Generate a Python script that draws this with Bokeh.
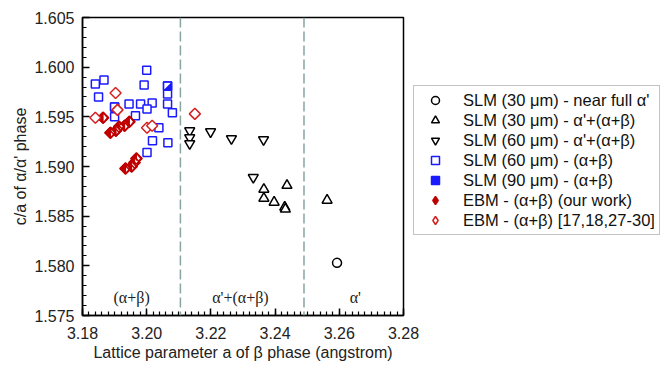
import numpy as np
from bokeh.plotting import figure
from bokeh.models import (Range1d, FixedTicker, PrintfTickFormatter, Span, Legend,
                          LegendItem, ColumnDataSource)
from bokeh.core.properties import value
from bokeh.embed import file_html
from bokeh.resources import INLINE

# ---------------- data ----------------
slm30_full_x = [3.2593]
slm30_full_y = [1.5803]

slm30_mix_x = [3.2365, 3.2365, 3.2397, 3.2430, 3.2432, 3.2437, 3.2562]
slm30_mix_y = [1.5877, 1.5868, 1.5864, 1.5859, 1.5857, 1.5881, 1.5866]

slm60_mix_x = [3.2134, 3.2134, 3.2134, 3.2199, 3.2264, 3.2364, 3.2332]
slm60_mix_y = [1.5936, 1.5929, 1.5923, 1.5935, 1.5928, 1.5927, 1.5889]

slm60_ab_x = [3.1840, 3.1867, 3.1850, 3.1900, 3.1945, 3.1965, 3.1981, 3.1992, 3.2000,
              3.2017, 3.2001, 3.2038, 3.2018, 3.2001, 3.2065, 3.2065, 3.2080, 3.2066]
slm60_ab_y = [1.5983, 1.5987, 1.5970, 1.5950, 1.5963, 1.5951, 1.5963, 1.5982, 1.5997,
              1.5964, 1.5958, 1.5939, 1.5926, 1.5914, 1.5973, 1.5963, 1.5954, 1.5924]

slm90_ab_x = [3.1900, 3.2065]
slm90_ab_y = [1.5960, 1.5981]

ebm_our_x = [3.1864, 3.1887, 3.1904, 3.1914, 3.1931, 3.1946, 3.1934, 3.1953, 3.1962, 3.1968]
ebm_our_y = [1.5949, 1.5934, 1.5936, 1.5940, 1.5941, 1.5945, 1.5898, 1.5900, 1.5904, 1.5908]

ebm_lit_x = [3.1840, 3.1903, 3.1909, 3.2001, 3.2017, 3.2150]
ebm_lit_y = [1.5949, 1.5974, 1.5957, 1.5939, 1.5941, 1.5953]

phase_boundaries = [3.2105, 3.249]
region_labels = ["(α+β)", "α'+(α+β)", "α'"]
region_label_x = [3.1953, 3.2292, 3.2650]
region_label_y = [1.5768, 1.5768, 1.5768]

x_major = [3.18, 3.20, 3.22, 3.24, 3.26, 3.28]
y_major = [1.575, 1.580, 1.585, 1.590, 1.595, 1.600, 1.605]

legend_labels = ["SLM (30 μm) - near full α'",
                 "SLM (30 μm) - α'+(α+β)",
                 "SLM (60 μm) - α'+(α+β)",
                 "SLM (60 μm) - (α+β)",
                 "SLM (90 μm) - (α+β)",
                 "EBM - (α+β) (our work)",
                 "EBM - (α+β) [17,18,27-30]"]

# ---------------- figure ----------------
X0, X1 = 3.18, 3.28
Y0, Y1 = 1.575, 1.605
FW, FH = 321, 298

p = figure(frame_width=FW, frame_height=FH,
           x_range=Range1d(X0, X1), y_range=Range1d(Y0, Y1),
           min_border_left=82, min_border_right=0,
           min_border_top=17, min_border_bottom=59,
           output_backend="svg", toolbar_location=None)
p.xgrid.visible = False
p.ygrid.visible = False
p.outline_line_color = "black"
p.outline_line_width = 1.5
p.background_fill_color = "white"
p.border_fill_color = "white"

p.xaxis.ticker = FixedTicker(ticks=x_major,
                             minor_ticks=list(np.round(np.arange(X0, X1 + 1e-9, 0.002), 4)))
p.yaxis.ticker = FixedTicker(ticks=y_major,
                             minor_ticks=list(np.round(np.arange(Y0, Y1 + 1e-9, 0.001), 4)))
p.xaxis.formatter = PrintfTickFormatter(format="%.2f")
p.yaxis.formatter = PrintfTickFormatter(format="%.3f")
p.xaxis.axis_label = "Lattice parameter a of β phase (angstrom)"
p.yaxis.axis_label = "c/a of α/α' phase"

for ax in (p.xaxis, p.yaxis):
    ax.axis_line_color = "black"
    ax.axis_line_width = 1.5
    ax.major_tick_line_color = "black"
    ax.minor_tick_line_color = "black"
    ax.major_tick_line_width = 1.5
    ax.minor_tick_line_width = 1.2
    ax.major_tick_in = 7
    ax.major_tick_out = 0
    ax.minor_tick_in = 4
    ax.minor_tick_out = 0
    ax.major_label_text_font = "Liberation Sans"
    ax.major_label_text_font_size = "16px"
    ax.major_label_text_color = "#222222"
    ax.axis_label_text_font = "Liberation Sans"
    ax.axis_label_text_font_size = "16px"
    ax.axis_label_text_font_style = "normal"
    ax.axis_label_text_color = "#222222"
p.xaxis.major_label_standoff = 11
p.yaxis.major_label_standoff = 8
p.xaxis.axis_label_standoff = 2
p.yaxis.axis_label_standoff = 2

# phase boundaries
for b in phase_boundaries:
    p.add_layout(Span(location=b, dimension="height", line_color="#8aa3a3",
                      line_width=1.5, line_dash="10 4"))

# region labels
p.text(x=region_label_x, y=region_label_y, text=region_labels,
       text_font=value("Liberation Serif"), text_font_size="16px",
       text_color="#222222", text_align="center", text_baseline="middle")

BLUE = "#1a1aff"
RED = "#d42020"
DRED = "#c00000"
LW = 1.5
sx = FW / (X1 - X0)
sy = FH / (Y1 - Y0)

r_circ = p.scatter(slm30_full_x, slm30_full_y, marker="circle", size=9,
                   fill_color="white", line_color="black", line_width=LW)
r_tri = p.scatter(slm30_mix_x, slm30_mix_y, marker="triangle", size=10,
                  fill_color="white", line_color="black", line_width=LW)
r_itri = p.scatter(slm60_mix_x, slm60_mix_y, marker="inverted_triangle", size=10,
                   fill_color="white", line_color="black", line_width=LW)
r_sq = p.scatter(slm60_ab_x, slm60_ab_y, marker="square", size=8,
                 fill_color="white", line_color=BLUE, line_width=LW)

# SLM 90: square with lower-right half filled
r_sq90 = p.scatter(slm90_ab_x, slm90_ab_y, marker="square", size=8,
                   fill_color=BLUE, line_color=BLUE, line_width=LW)
h = 3.6
xs90 = [[x - h / sx, x + h / sx, x - h / sx] for x in slm90_ab_x]
ys90 = [[y + h / sy, y + h / sy, y - h / sy] for y in slm90_ab_y]
p.patches(xs90, ys90, fill_color="white", line_color=None)
p.scatter(slm90_ab_x, slm90_ab_y, marker="square", size=8,
          fill_color=None, line_color=BLUE, line_width=LW)

# EBM our work: diamond with left half filled
p.scatter(ebm_our_x, ebm_our_y, marker="square", angle=np.pi / 4, size=7.8,
          fill_color=DRED, line_color=DRED, line_width=LW)
d = 3.6
xso = [[x + 0.6 / sx, x + d / sx, x + 0.6 / sx] for x in ebm_our_x]
yso = [[y + d / sy, y, y - d / sy] for y in ebm_our_y]
p.patches(xso, yso, fill_color="white", line_color=None)
p.scatter(ebm_our_x, ebm_our_y, marker="square", angle=np.pi / 4, size=7.8,
          fill_color=None, line_color=DRED, line_width=LW)

p.scatter(ebm_lit_x, ebm_lit_y, marker="square", angle=np.pi / 4, size=7.8,
          fill_color="white", line_color=RED, line_width=LW)

# legend-only diamond glyphs (the legend ignores marker rotation); NaN = never drawn in the plot
r_our_leg = p.scatter([np.nan], [np.nan], marker="diamond", size=9,
                      fill_color=DRED, line_color=DRED, line_width=LW)
r_lit_leg = p.scatter([np.nan], [np.nan], marker="diamond", size=9,
                      fill_color="white", line_color=RED, line_width=LW)

renderers = [r_circ, r_tri, r_itri, r_sq, r_sq90, r_our_leg, r_lit_leg]
legend = Legend(items=[LegendItem(label=l, renderers=[r]) for l, r in zip(legend_labels, renderers)],
                location=(10, 80))
legend.label_text_font = "Liberation Sans"
legend.label_text_font_size = "16.5px"
legend.label_text_color = "#111111"
legend.glyph_width = 34
legend.glyph_height = 20
legend.label_height = 20
legend.label_standoff = 11
legend.spacing = 0
legend.padding = 4
legend.margin = 10
legend.border_line_color = "#888888"
legend.border_line_width = 1.5
legend.background_fill_color = "white"
legend.background_fill_alpha = 1.0
p.add_layout(legend, "right")

open("out.html", "w").write(file_html(p, INLINE))
